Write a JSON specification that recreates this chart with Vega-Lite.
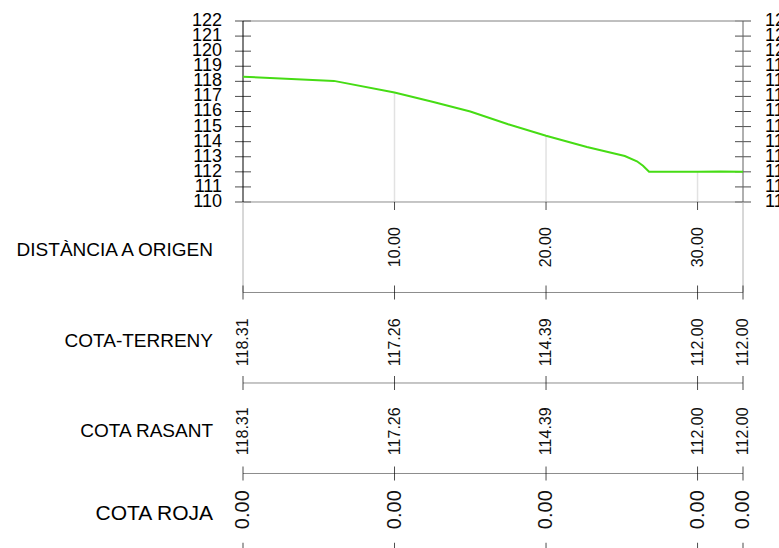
{
  "$schema": "https://vega.github.io/schema/vega-lite/v6.json",
  "width": 500,
  "height": 527,
  "autosize": {"type": "none"},
  "padding": {"left": 243, "top": 21, "right": 36, "bottom": 0},
  "background": "white",
  "config": {"view": {"stroke": null}, "font": "Liberation Sans"},
  "datasets": {
    "perfil": [
      {"dist": 0, "cota": 118.31},
      {"dist": 6.0, "cota": 118.03},
      {"dist": 10, "cota": 117.26},
      {"dist": 12.5, "cota": 116.65},
      {"dist": 15, "cota": 116.0},
      {"dist": 17.5, "cota": 115.15},
      {"dist": 20, "cota": 114.39},
      {"dist": 22.7, "cota": 113.65},
      {"dist": 25.2, "cota": 113.05},
      {"dist": 26.0, "cota": 112.7},
      {"dist": 26.4, "cota": 112.4},
      {"dist": 26.8, "cota": 112.0},
      {"dist": 30, "cota": 112.0},
      {"dist": 31.5, "cota": 112.03},
      {"dist": 33, "cota": 112.0}
    ],
    "estacions": [
      {"dist": 0, "terreny": 118.31, "rasant": 118.31, "roja": 0},
      {"dist": 10, "terreny": 117.26, "rasant": 117.26, "roja": 0},
      {"dist": 20, "terreny": 114.39, "rasant": 114.39, "roja": 0},
      {"dist": 30, "terreny": 112.0, "rasant": 112.0, "roja": 0},
      {"dist": 33, "terreny": 112.0, "rasant": 112.0, "roja": 0}
    ],
    "dist10": [{"dist": 10, "terreny": 117.26}, {"dist": 20, "terreny": 114.39}, {"dist": 30, "terreny": 112.0}],
    "cotes": [
      {"v": 110}, {"v": 111}, {"v": 112}, {"v": 113}, {"v": 114}, {"v": 115}, {"v": 116},
      {"v": 117}, {"v": 118}, {"v": 119}, {"v": 120}, {"v": 121}, {"v": 122}
    ],
    "linies": [{"y": 110}, {"y": 104}, {"y": 98}, {"y": 92}]
  },
  "layer": [
    {
      "data": {"name": "dist10"},
      "mark": {"type": "rule", "color": "#e2e2e2", "strokeWidth": 1.5},
      "encoding": {
        "x": {"field": "dist", "type": "quantitative", "scale": {"domain": [0, 33], "nice": false, "zero": false}, "axis": null},
        "y": {"field": "terreny", "type": "quantitative", "scale": {"domain": [87.06, 122], "nice": false, "zero": false}, "axis": null},
        "y2": {"datum": 110}
      }
    },
    {
      "data": {"name": "cotes"},
      "mark": {"type": "tick", "orient": "horizontal", "size": 16, "thickness": 1, "color": "#000000"},
      "encoding": {
        "x": {"datum": 0, "type": "quantitative", "axis": null},
        "y": {"field": "v", "type": "quantitative", "axis": null}
      }
    },
    {
      "data": {"name": "cotes"},
      "mark": {"type": "tick", "orient": "horizontal", "size": 16, "thickness": 1, "color": "#000000"},
      "encoding": {
        "x": {"datum": 33, "type": "quantitative", "axis": null},
        "y": {"field": "v", "type": "quantitative", "axis": null}
      }
    },
    {
      "data": {"name": "cotes"},
      "mark": {"type": "text", "align": "right", "baseline": "middle", "dx": -21, "fontSize": 18, "color": "#000000"},
      "encoding": {
        "x": {"datum": 0, "type": "quantitative", "axis": null},
        "y": {"field": "v", "type": "quantitative", "axis": null},
        "text": {"field": "v", "type": "quantitative", "format": "d"}
      }
    },
    {
      "data": {"name": "cotes"},
      "mark": {"type": "text", "align": "left", "baseline": "middle", "dx": 22, "fontSize": 18, "color": "#000000"},
      "encoding": {
        "x": {"datum": 33, "type": "quantitative", "axis": null},
        "y": {"field": "v", "type": "quantitative", "axis": null},
        "text": {"field": "v", "type": "quantitative", "format": "d"}
      }
    },
    {
      "data": {"name": "linies"},
      "mark": {"type": "rule", "color": "#8c8c8c", "strokeWidth": 1},
      "encoding": {
        "y": {"field": "y", "type": "quantitative", "axis": null}
      }
    },
    {
      "data": {"values": [{"y": 122}]},
      "mark": {"type": "rule", "color": "#808080", "strokeWidth": 1, "xOffset": -8, "x2Offset": 8},
      "encoding": {
        "y": {"field": "y", "type": "quantitative", "axis": null}
      }
    },
    {
      "data": {"name": "linies"},
      "transform": [{"filter": "datum.y >= 104"}],
      "mark": {"type": "rule", "color": "#b0b0b0", "strokeWidth": 1},
      "encoding": {
        "x": {"datum": 0, "type": "quantitative", "axis": null},
        "y": {"aggregate": "min", "field": "y", "type": "quantitative", "axis": null},
        "y2": {"aggregate": "max", "field": "y"}
      }
    },
    {
      "data": {"name": "linies"},
      "transform": [{"filter": "datum.y >= 104"}],
      "mark": {"type": "rule", "color": "#b0b0b0", "strokeWidth": 1},
      "encoding": {
        "x": {"datum": 33, "type": "quantitative", "axis": null},
        "y": {"aggregate": "min", "field": "y", "type": "quantitative", "axis": null},
        "y2": {"aggregate": "max", "field": "y"}
      }
    },
    {
      "data": {"name": "cotes"},
      "mark": {"type": "rule", "color": "#000000", "strokeWidth": 1},
      "encoding": {
        "x": {"datum": 0, "type": "quantitative", "axis": null},
        "y": {"aggregate": "min", "field": "v", "type": "quantitative", "axis": null},
        "y2": {"aggregate": "max", "field": "v"}
      }
    },
    {
      "data": {"name": "cotes"},
      "mark": {"type": "rule", "color": "#606060", "strokeWidth": 1},
      "encoding": {
        "x": {"datum": 33, "type": "quantitative", "axis": null},
        "y": {"aggregate": "min", "field": "v", "type": "quantitative", "axis": null},
        "y2": {"aggregate": "max", "field": "v"}
      }
    },
    {
      "data": {"name": "perfil"},
      "mark": {"type": "line", "color": "#46dc14", "strokeWidth": 2},
      "encoding": {
        "x": {"field": "dist", "type": "quantitative", "axis": null},
        "y": {"field": "cota", "type": "quantitative", "axis": null}
      }
    },
    {
      "data": {"name": "dist10"},
      "mark": {"type": "tick", "orient": "vertical", "size": 8, "thickness": 1, "yOffset": 4, "color": "#000000"},
      "encoding": {
        "x": {"field": "dist", "type": "quantitative", "axis": null},
        "y": {"datum": 110, "type": "quantitative", "axis": null}
      }
    },
    {
      "data": {"name": "estacions"},
      "mark": {"type": "tick", "orient": "vertical", "size": 14, "thickness": 1, "color": "#000000"},
      "encoding": {
        "x": {"field": "dist", "type": "quantitative", "axis": null},
        "y": {"datum": 104, "type": "quantitative", "axis": null}
      }
    },
    {
      "data": {"name": "estacions"},
      "mark": {"type": "tick", "orient": "vertical", "size": 14, "thickness": 1, "color": "#000000"},
      "encoding": {
        "x": {"field": "dist", "type": "quantitative", "axis": null},
        "y": {"datum": 98, "type": "quantitative", "axis": null}
      }
    },
    {
      "data": {"name": "estacions"},
      "mark": {"type": "tick", "orient": "vertical", "size": 14, "thickness": 1, "color": "#000000"},
      "encoding": {
        "x": {"field": "dist", "type": "quantitative", "axis": null},
        "y": {"datum": 92, "type": "quantitative", "axis": null}
      }
    },
    {
      "data": {"name": "estacions"},
      "mark": {"type": "tick", "orient": "vertical", "size": 14, "thickness": 1, "color": "#000000"},
      "encoding": {
        "x": {"field": "dist", "type": "quantitative", "axis": null},
        "y": {"datum": 86.95, "type": "quantitative", "axis": null}
      }
    },
    {
      "data": {"name": "dist10"},
      "mark": {"type": "text", "angle": 270, "align": "center", "baseline": "middle", "fontSize": 16, "color": "#111111"},
      "encoding": {
        "x": {"field": "dist", "type": "quantitative", "axis": null},
        "y": {"datum": 107, "type": "quantitative", "axis": null},
        "text": {"field": "dist", "type": "quantitative", "format": ".2f"}
      }
    },
    {
      "data": {"name": "estacions"},
      "mark": {"type": "text", "angle": 270, "align": "center", "baseline": "middle", "fontSize": 16, "color": "#111111"},
      "encoding": {
        "x": {"field": "dist", "type": "quantitative", "axis": null},
        "y": {"datum": 100.7, "type": "quantitative", "axis": null},
        "text": {"field": "terreny", "type": "quantitative", "format": ".2f"}
      }
    },
    {
      "data": {"name": "estacions"},
      "mark": {"type": "text", "angle": 270, "align": "center", "baseline": "middle", "fontSize": 16, "color": "#111111"},
      "encoding": {
        "x": {"field": "dist", "type": "quantitative", "axis": null},
        "y": {"datum": 94.8, "type": "quantitative", "axis": null},
        "text": {"field": "rasant", "type": "quantitative", "format": ".2f"}
      }
    },
    {
      "data": {"name": "estacions"},
      "mark": {"type": "text", "angle": 270, "align": "center", "baseline": "middle", "fontSize": 20, "color": "#111111"},
      "encoding": {
        "x": {"field": "dist", "type": "quantitative", "axis": null},
        "y": {"datum": 89.6, "type": "quantitative", "axis": null},
        "text": {"field": "roja", "type": "quantitative", "format": ".2f"}
      }
    },
    {
      "data": {"values": [{"nom": "DISTÀNCIA A ORIGEN", "banda": 106.8}, {"nom": "COTA-TERRENY", "banda": 100.8}, {"nom": "COTA RASANT", "banda": 94.8}]},
      "mark": {"type": "text", "align": "right", "baseline": "middle", "dx": -30, "fontSize": 19, "color": "#000000"},
      "encoding": {
        "x": {"datum": 0, "type": "quantitative", "axis": null},
        "y": {"field": "banda", "type": "quantitative", "axis": null},
        "text": {"field": "nom", "type": "nominal"}
      }
    },
    {
      "data": {"values": [{"nom": "COTA ROJA"}]},
      "mark": {"type": "text", "align": "right", "baseline": "middle", "dx": -30, "fontSize": 21, "color": "#000000"},
      "encoding": {
        "x": {"datum": 0, "type": "quantitative", "axis": null},
        "y": {"datum": 89.3, "type": "quantitative", "axis": null},
        "text": {"field": "nom", "type": "nominal"}
      }
    }
  ]
}
